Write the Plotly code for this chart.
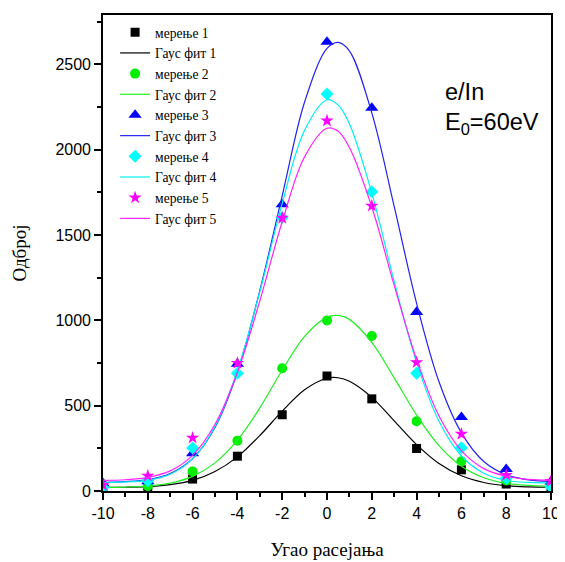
import plotly.graph_objects as go

# measured angles
angles = [-10, -8, -6, -4, -2, 0, 2, 4, 6, 8, 10]

meas1 = [15, 25, 70, 204, 447, 674, 540, 249, 124, 41, 20]
meas2 = [12, 29, 115, 295, 719, 1000, 909, 409, 174, 62, 35]
meas3 = [45, 57, 220, 745, 1680, 2632, 2245, 1049, 433, 128, 55]
meas4 = [20, 60, 252, 690, 1603, 2327, 1754, 690, 254, 74, 23]
meas5 = [35, 89, 311, 750, 1600, 2170, 1671, 754, 334, 93, 58]

# Gauss fit curves
fit_x = [-10, -9, -8, -7, -6, -5, -4, -3, -2, -1, 0, 0.5, 1, 2, 3, 4, 5, 6, 7, 8, 9, 10]
fit1 = [21, 22, 26, 37, 62, 114, 200, 325, 468, 594, 661, 664, 643, 549, 411, 272, 161, 89, 50, 31, 24, 22]
fit2 = [21, 23, 29, 46, 86, 165, 298, 487, 708, 906, 1019, 1029, 1006, 871, 663, 445, 266, 145, 78, 45, 33, 28]
fit3 = [51, 55, 67, 103, 190, 372, 697, 1175, 1730, 2280, 2594, 2630, 2580, 2216, 1668, 1100, 640, 341, 173, 95, 65, 56]
fit4 = [50, 53, 62, 98, 188, 378, 705, 1167, 1686, 2114, 2293, 2262, 2152, 1746, 1228, 754, 409, 205, 104, 62, 50, 47]
fit5 = [62, 66, 80, 118, 209, 391, 695, 1114, 1578, 1959, 2126, 2108, 2013, 1665, 1205, 770, 440, 237, 131, 86, 68, 62]

x_tick_vals = [-10, -8, -6, -4, -2, 0, 2, 4, 6, 8, 10]
x_tick_text = ["-10", "-8", "-6", "-4", "-2", "0", "2", "4", "6", "8", "10"]

names_meas = ["мерење 1", "мерење 2", "мерење 3", "мерење 4", "мерење 5"]
names_fit = ["Гаус фит 1", "Гаус фит 2", "Гаус фит 3", "Гаус фит 4", "Гаус фит 5"]
colors = ["#000000", "#00EE00", "#0000FF", "#00FFFF", "#FF00FF"]
line_colors = ["#000000", "#22EE22", "#2222EE", "#00F0F0", "#FF22FF"]
symbols = ["square", "circle", "triangle-up", "diamond", "star"]
sizes = [9, 10, 11.5, 10, 10]

meas_all = [meas1, meas2, meas3, meas4, meas5]
fit_all = [fit1, fit2, fit3, fit4, fit5]

fig = go.Figure()
for i in range(5):
    fig.add_trace(go.Scatter(
        x=angles, y=meas_all[i], mode="markers", name=names_meas[i],
        marker=dict(symbol=symbols[i], size=sizes[i], color=colors[i], line=dict(width=0)),
    ))
    fig.add_trace(go.Scatter(
        x=fit_x, y=fit_all[i], mode="lines", name=names_fit[i],
        line=dict(color=line_colors[i], width=1.2, shape="spline", smoothing=1.0),
    ))

axis_common = dict(
    showgrid=False, zeroline=False, showline=True, linecolor="black", linewidth=1.6,
    mirror=True, ticks="outside", ticklen=7, tickwidth=1.5, tickcolor="black",
    tickfont=dict(family="Liberation Sans, Arial", size=16, color="black"),
)

fig.update_layout(
    width=557, height=554,
    margin=dict(l=95, r=12, t=5, b=71),
    paper_bgcolor="white", plot_bgcolor="white",
    xaxis=dict(
        range=[-10, 10], tickmode="array", tickvals=x_tick_vals, ticktext=x_tick_text,
        minor=dict(dtick=1, tick0=-10, ticks="outside", ticklen=4, tickwidth=1.5, tickcolor="black"),
        title=dict(text="Угао расејања", font=dict(family="Liberation Serif, Times New Roman", size=19, color="black"), standoff=22),
        **axis_common,
    ),
    yaxis=dict(
        range=[0, 2790], tick0=0, dtick=500,
        minor=dict(dtick=250, ticks="outside", ticklen=4, tickwidth=1.5, tickcolor="black"),
        title=dict(text="Одброј", font=dict(family="Liberation Serif, Times New Roman", size=19, color="black"), standoff=24),
        **axis_common,
    ),
    legend=dict(
        x=0.027, y=0.996, xanchor="left", yanchor="top",
        bgcolor="rgba(0,0,0,0)", borderwidth=0,
        font=dict(family="Liberation Serif, Times New Roman", size=13.6, color="black"),
        tracegroupgap=0,
    ),
    annotations=[
        dict(text="e/In", xref="paper", yref="paper", x=0.76, y=0.838, xanchor="left", yanchor="middle",
             showarrow=False, font=dict(family="Liberation Sans, Arial", size=23.5, color="black")),
        dict(text="E<sub>0</sub>=60eV", xref="paper", yref="paper", x=0.76, y=0.773, xanchor="left", yanchor="middle",
             showarrow=False, font=dict(family="Liberation Sans, Arial", size=23.5, color="black")),
    ],
)

fig.write_html("out.html")
